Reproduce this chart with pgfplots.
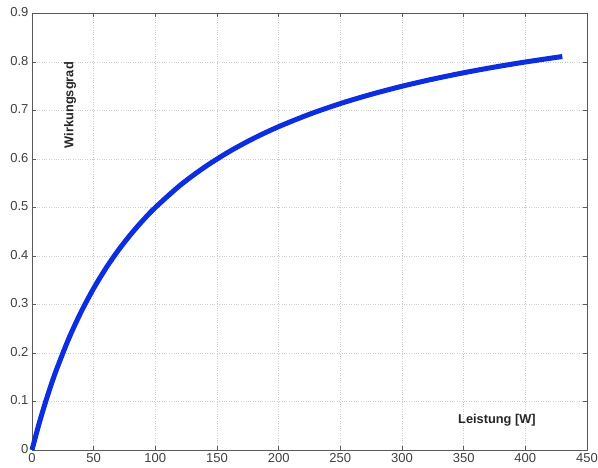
\documentclass[border=0pt]{standalone}
\usepackage{pgfplots}
\pgfplotsset{compat=1.18}
\usepackage{fontspec}
\setmainfont{Liberation Sans}
\definecolor{curveblue}{rgb}{0.05,0.18,0.88}
\begin{document}
\begin{tikzpicture}
\begin{axis}[
  scale only axis,
  width=555pt, height=436.5pt,
  xmin=0, xmax=450, ymin=0, ymax=0.9,
  xtick={0,50,...,450},
  ytick={0,0.1,...,0.9},
  yticklabels={0,0.1,0.2,0.3,0.4,0.5,0.6,0.7,0.8,0.9},
  grid=major,
  major grid style={gray!40, dotted, line width=0.6pt},
  axis line style={gray!70!black, line width=0.6pt},
  tick style={gray!70!black, line width=0.5pt},
  tick align=inside,
  major tick length=4pt,
  xtick pos=both, ytick pos=both,
  ticklabel style={font=\fontsize{13}{14}\selectfont, text=black!75},
  /pgf/number format/assume math mode=true,
  scaled ticks=false,
  xticklabel style={yshift=0pt},
  yticklabel style={xshift=0pt, yshift=1pt},
  clip=false,
]
\addplot[curveblue, line width=5pt, smooth] coordinates {
(0,0) (5,0.0476) (10,0.0909) (15,0.1304) (20,0.1667) (30,0.2308) (40,0.2857)
(50,0.3333) (60,0.375) (70,0.4118) (80,0.4444) (90,0.4737) (100,0.5)
(120,0.5455) (140,0.5833) (160,0.6154) (180,0.6429) (200,0.6667)
(225,0.6923) (250,0.7143) (275,0.7333) (300,0.75) (325,0.7647)
(350,0.7778) (375,0.7895) (400,0.8) (430,0.8113)
};
\node[rotate=90, font=\fontsize{12.8}{14}\selectfont\bfseries, text=black!85] at (axis cs:30.8,0.711) {Wirkungsgrad};
\node[font=\fontsize{12.8}{14}\selectfont\bfseries, text=black!85] at (axis cs:377,0.062) {Leistung [W]};
\end{axis}
\pgfresetboundingbox
\path[use as bounding box] ([xshift=-32pt,yshift=-18pt]current axis.south west) rectangle ([xshift=11pt,yshift=13.5pt]current axis.north east);
\end{tikzpicture}
\end{document}
